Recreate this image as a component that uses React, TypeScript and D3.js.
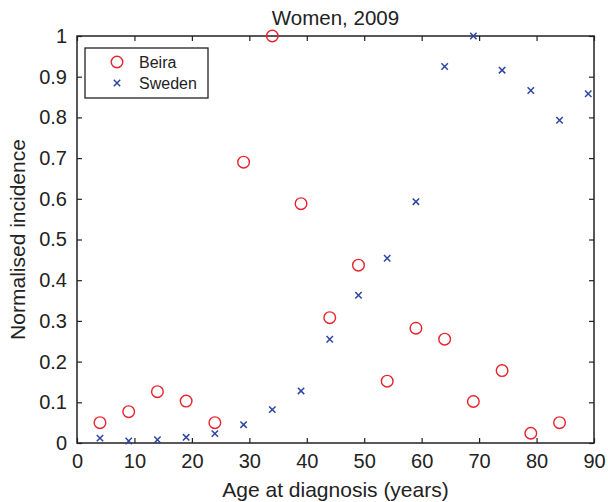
import React, { useEffect, useRef } from 'react';
import * as d3 from 'd3';

const ages = [4, 9, 14, 19, 24, 29, 34, 39, 44, 49, 54, 59, 64, 69, 74, 79, 84, 89];
const beira = [0.05, 0.077, 0.126, 0.103, 0.05, 0.69, 1.0, 0.588, 0.308, 0.437, 0.152, 0.282, 0.255, 0.102, 0.178, 0.024, 0.05, null];
const sweden = [0.012, 0.005, 0.008, 0.014, 0.023, 0.045, 0.082, 0.128, 0.255, 0.363, 0.454, 0.593, 0.925, 1.0, 0.916, 0.866, 0.793, 0.858];
const xTicks = [0, 10, 20, 30, 40, 50, 60, 70, 80, 90];
const yTicks = [0, 0.1, 0.2, 0.3, 0.4, 0.5, 0.6, 0.7, 0.8, 0.9, 1];

const RED = '#e8232d';
const BLUE = '#2b45a3';

const App: React.FC = () => {
  const ref = useRef<SVGSVGElement | null>(null);

  useEffect(() => {
    if (!ref.current) return;
    const W = 608, H = 502;
    const margin = { top: 36, right: 14, bottom: 59, left: 77 };
    const width = W - margin.left - margin.right;
    const height = H - margin.top - margin.bottom;
    const font = '"Liberation Sans", Arial, sans-serif';

    const root = d3.select(ref.current);
    root.selectAll('*').remove();
    root.attr('width', W).attr('height', H);

    const svg = root.append('g').attr('transform', `translate(${margin.left},${margin.top})`);

    const x = d3.scaleLinear().domain([0, 90]).range([0, width]);
    const y = d3.scaleLinear().domain([0, 1]).range([height, 0]);

    const tick = 5;
    const axisStyle = (g: d3.Selection<SVGGElement, unknown, null, undefined>) => {
      g.select('.domain').remove();
      g.selectAll('line').attr('stroke', '#222').attr('stroke-width', 1.2);
      g.selectAll('text').attr('font-family', font).attr('font-size', 20).attr('fill', '#222');
    };

    svg.append('g')
      .attr('transform', `translate(0,${height})`)
      .call(d3.axisBottom(x).tickValues(xTicks).tickSize(-tick).tickPadding(11).tickFormat(d => `${d}`))
      .call(axisStyle);
    svg.append('g')
      .call(d3.axisTop(x).tickValues(xTicks).tickSize(-tick).tickFormat(() => ''))
      .call(axisStyle);
    svg.append('g')
      .call(d3.axisLeft(y).tickValues(yTicks).tickSize(-tick).tickPadding(10).tickFormat(d => `${d}`))
      .call(axisStyle);
    svg.append('g')
      .attr('transform', `translate(${width},0)`)
      .call(d3.axisRight(y).tickValues(yTicks).tickSize(-tick).tickFormat(() => ''))
      .call(axisStyle);

    svg.append('rect')
      .attr('width', width).attr('height', height)
      .attr('fill', 'none').attr('stroke', '#222').attr('stroke-width', 1.5);

    // Sweden crosses
    const s = 3.2;
    svg.append('g').selectAll('path')
      .data(ages.map((a, i) => ({ a, v: sweden[i] })))
      .enter().append('path')
      .attr('d', d => {
        const cx = x(d.a), cy = y(d.v);
        return `M${cx - s},${cy - s}L${cx + s},${cy + s}M${cx - s},${cy + s}L${cx + s},${cy - s}`;
      })
      .attr('stroke', BLUE).attr('stroke-width', 1.5).attr('fill', 'none');

    // Beira circles
    svg.append('g').selectAll('circle')
      .data(ages.map((a, i) => ({ a, v: beira[i] })).filter(d => d.v !== null))
      .enter().append('circle')
      .attr('cx', d => x(d.a)).attr('cy', d => y(d.v as number))
      .attr('r', 5.8)
      .attr('fill', 'none').attr('stroke', RED).attr('stroke-width', 1.4);

    // legend
    const lg = svg.append('g').attr('transform', 'translate(8,12)');
    lg.append('rect').attr('width', 123).attr('height', 50)
      .attr('fill', '#fff').attr('stroke', '#222').attr('stroke-width', 1.3);
    lg.append('circle').attr('cx', 32).attr('cy', 14).attr('r', 5.8)
      .attr('fill', 'none').attr('stroke', RED).attr('stroke-width', 1.4);
    lg.append('path')
      .attr('d', `M${32 - s},${35 - s}L${32 + s},${35 + s}M${32 - s},${35 + s}L${32 + s},${35 - s}`)
      .attr('stroke', BLUE).attr('stroke-width', 1.5);
    lg.append('text').attr('x', 54).attr('y', 20).text('Beira')
      .attr('font-family', font).attr('font-size', 16).attr('fill', '#222');
    lg.append('text').attr('x', 54).attr('y', 41).text('Sweden')
      .attr('font-family', font).attr('font-size', 16).attr('fill', '#222');

    // titles
    svg.append('text')
      .attr('x', width / 2).attr('y', -11)
      .attr('text-anchor', 'middle')
      .attr('font-family', font).attr('font-size', 20.5).attr('fill', '#222')
      .text('Women, 2009');

    svg.append('text')
      .attr('x', width / 2).attr('y', height + 54)
      .attr('text-anchor', 'middle')
      .attr('font-family', font).attr('font-size', 21).attr('fill', '#222')
      .text('Age at diagnosis (years)');

    svg.append('text')
      .attr('transform', 'rotate(-90)')
      .attr('x', -height / 2).attr('y', -52)
      .attr('text-anchor', 'middle')
      .attr('font-family', font).attr('font-size', 21).attr('fill', '#222')
      .text('Normalised incidence');
  }, []);

  return <svg ref={ref} style={{ position: 'absolute', left: 0, top: 0 }}></svg>;
};

export default App;
